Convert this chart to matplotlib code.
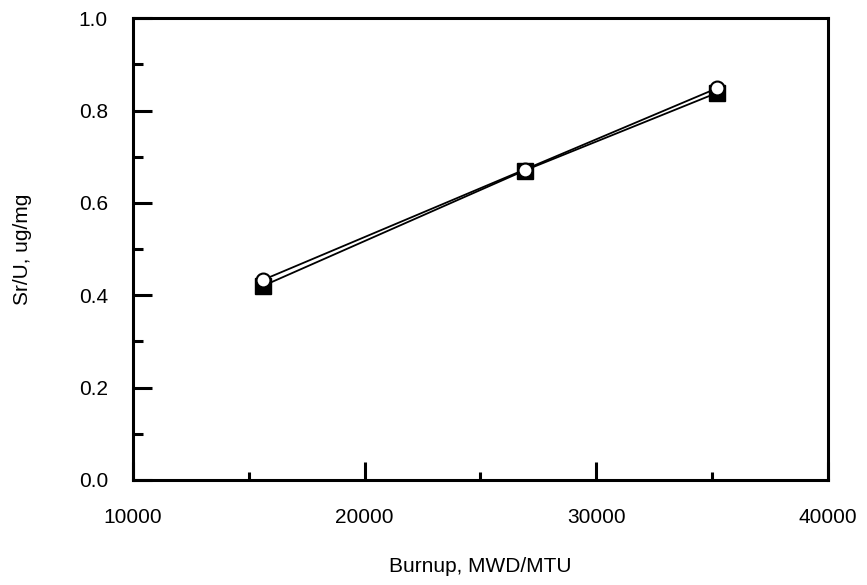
import matplotlib
matplotlib.use("Agg")
import matplotlib.pyplot as plt
from matplotlib.ticker import MultipleLocator

plt.rcParams['font.family'] = ['Liberation Sans', 'DejaVu Sans']

# burnup values (MWD/MTU)
burnup = [15600, 26900, 35200]
# Sr/U, ug/mg
sr_measured = [0.420, 0.670, 0.838]
sr_calc = [0.433, 0.672, 0.848]

fig = plt.figure(figsize=(8.67, 5.85), dpi=100)
ax = fig.add_axes([0.1534, 0.1795, 0.8016, 0.7895])

ax.plot(burnup, sr_measured, color='black', lw=1.3, marker='s', ms=11.5,
        mfc='black', mec='black', zorder=3)
ax.plot(burnup, sr_calc, color='black', lw=1.3, marker='o', ms=10,
        mfc='white', mec='black', mew=1.5, zorder=4)

ax.set_xlim(10000, 40000)
ax.set_ylim(0.0, 1.0)
ax.xaxis.set_major_locator(MultipleLocator(10000))
ax.xaxis.set_minor_locator(MultipleLocator(5000))
ax.yaxis.set_major_locator(MultipleLocator(0.2))
ax.yaxis.set_minor_locator(MultipleLocator(0.1))
ax.yaxis.set_major_formatter(plt.FuncFormatter(lambda v, p: f"{v:.1f}"))

for s in ax.spines.values():
    s.set_linewidth(2.2)

ax.tick_params(axis='both', which='both', direction='in', width=2.2,
               labelsize=15)
ax.tick_params(axis='x', which='major', length=13, pad=20)
ax.tick_params(axis='x', which='minor', length=6)
ax.tick_params(axis='y', which='major', length=14, pad=18)
ax.tick_params(axis='y', which='minor', length=7)

ax.set_xlabel("Burnup, MWD/MTU", fontsize=15, labelpad=22)
ax.set_ylabel("Sr/U, ug/mg", fontsize=15, labelpad=34)

fig.savefig("out.png", dpi=100)
